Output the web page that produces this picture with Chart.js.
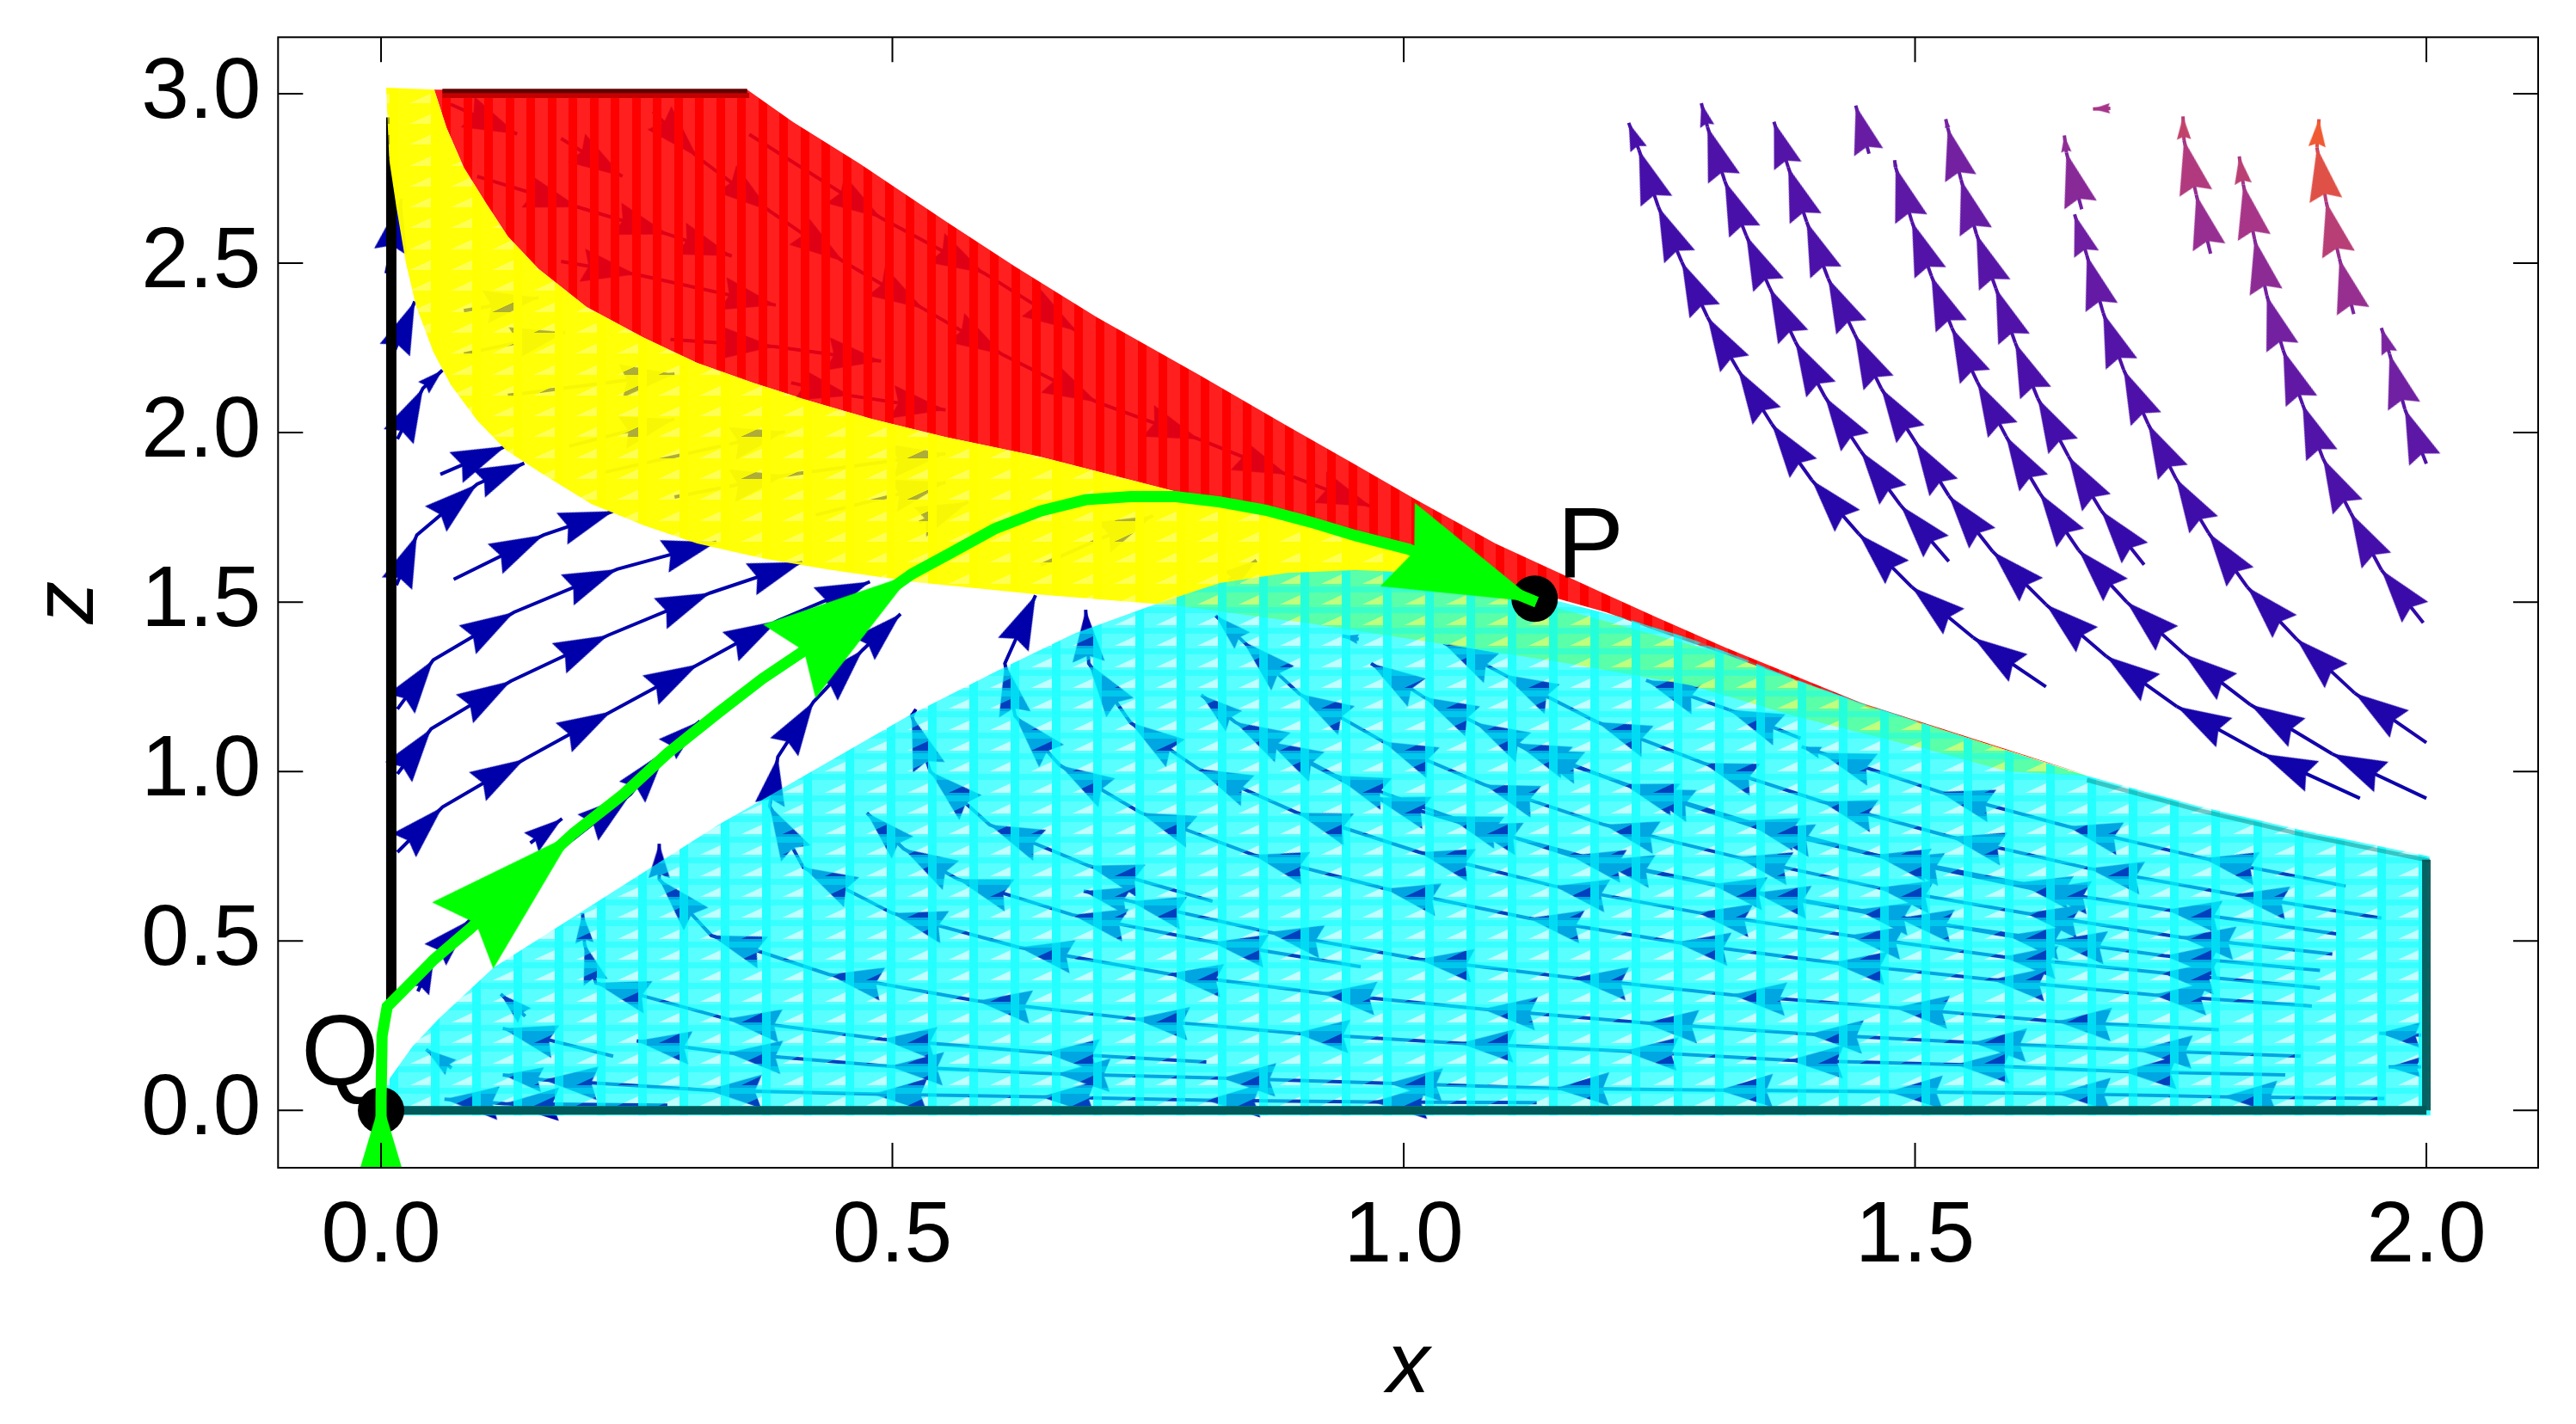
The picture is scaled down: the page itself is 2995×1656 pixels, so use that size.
<!DOCTYPE html>
<html>
<head>
<meta charset="utf-8">
<title>Phase portrait</title>
<script src="https://cdn.jsdelivr.net/npm/chart.js@4/dist/chart.umd.min.js"></script>
<style>
  body { margin: 0; background: #fff; }
  canvas { display: block; }
</style>
</head>
<body>
<canvas id="phaseChart" width="2995" height="1656"></canvas>
<script>
// Axes
const xRange = [-0.1007, 2.1093];
const zRange = [-0.1693, 3.1667];
const xAxisName = "x";
const zAxisName = "z";

// Regions as [x, z]
const redRegion = [
  [0.052, 3.012], [0.358, 3.012], [0.403, 2.916], [0.468, 2.794], [0.553, 2.622], [0.62, 2.49], [0.70, 2.34],
  [0.80, 2.17], [0.886, 2.02], [0.95, 1.91], [1.012, 1.802], [1.09, 1.672], [1.158, 1.578], [1.196, 1.525],
  [1.248, 1.454], [1.315, 1.365], [1.381, 1.284], [1.447, 1.203], [1.668, 0.99], [1.447, 1.195], [1.315, 1.345],
  [1.248, 1.414], [1.198, 1.47], [1.151, 1.51], [0.997, 1.655], [0.908, 1.736], [0.843, 1.774], [0.776, 1.827],
  [0.644, 1.929], [0.552, 1.987], [0.48, 2.04], [0.42, 2.093], [0.364, 2.147], [0.309, 2.206], [0.257, 2.28],
  [0.201, 2.371], [0.154, 2.483], [0.124, 2.579], [0.103, 2.675], [0.081, 2.782], [0.064, 2.9]
];
const yellowRegion = [
  [0.005, 3.018], [0.052, 3.012], [0.064, 2.9], [0.081, 2.782], [0.103, 2.675], [0.124, 2.579], [0.154, 2.483],
  [0.201, 2.371], [0.257, 2.28], [0.309, 2.206], [0.364, 2.147], [0.42, 2.093], [0.48, 2.04], [0.552, 1.987],
  [0.644, 1.929], [0.776, 1.827], [0.843, 1.774], [0.908, 1.736], [0.997, 1.655], [1.13, 1.5], [1.315, 1.345],
  [1.447, 1.2], [1.668, 0.987], [1.591, 1.0], [1.514, 1.063], [1.447, 1.114], [1.381, 1.165], [1.281, 1.254],
  [1.158, 1.32], [0.908, 1.437], [0.776, 1.49], [0.64, 1.523], [0.523, 1.559], [0.437, 1.596], [0.373, 1.629],
  [0.309, 1.673], [0.257, 1.726], [0.206, 1.789], [0.159, 1.876], [0.122, 1.949], [0.094, 2.036], [0.068, 2.142],
  [0.051, 2.239], [0.034, 2.376], [0.024, 2.505], [0.015, 2.665], [0.008, 2.805]
];
const cyanRegion = [
  [0, 0], [0.0076, 0.091], [0.031, 0.19], [0.057, 0.272], [0.11, 0.421], [0.171, 0.538], [0.257, 0.703],
  [0.33, 0.843], [0.38, 0.929], [0.516, 1.165], [0.604, 1.299], [0.677, 1.406], [0.754, 1.49], [0.82, 1.556],
  [0.886, 1.586], [0.952, 1.594], [0.997, 1.589], [1.057, 1.563], [1.108, 1.53], [1.155, 1.5], [1.214, 1.454],
  [1.281, 1.391], [1.331, 1.335], [1.381, 1.274], [1.447, 1.203], [1.531, 1.119], [1.588, 1.063], [1.668, 0.987],
  [1.777, 0.898], [1.877, 0.827], [2.003, 0.749], [2.004, -0.015], [0, -0.015]
];

// Boundaries
const blackEdge = [[0.01, 0.31], [0.01, 2.93]];
const cyanBottomEdge = [[0.02, 0], [2.0, 0]];
const cyanRightEdge = [[2.0, 0], [2.0, 0.74]];
const cyanTopEdge = [[1.668, 0.975], [1.777, 0.886], [1.877, 0.815], [2.003, 0.737]];
const redTopEdge = [[0.06, 3.008], [0.358, 3.008]];
const redTopShade = [[0.06, 2.995], [0.36, 2.995]];

// Streamlines: first point is the tail, the rest are arrow tips
const streamsRight = [
  [[1.628,1.25],[1.557,1.395],[1.497,1.544],[1.445,1.701],[1.399,1.86],[1.36,2.025],[1.327,2.185],[1.297,2.341],[1.272,2.503],[1.249,2.666],[1.23,2.834],[1.22,2.914]],
  [[1.533,1.62],[1.486,1.785],[1.447,1.945],[1.412,2.105],[1.383,2.268],[1.358,2.426],[1.335,2.581],[1.314,2.742],[1.297,2.902],[1.291,2.972]],
  [[1.935,0.921],[1.84,1.052],[1.756,1.192],[1.687,1.34],[1.628,1.493],[1.576,1.649],[1.533,1.814],[1.5,1.974],[1.467,2.13],[1.441,2.29],[1.415,2.455],[1.394,2.622],[1.376,2.783],[1.362,2.917]],
  [[1.724,1.61],[1.682,1.77],[1.65,1.93],[1.62,2.101],[1.598,2.265],[1.579,2.426],[1.56,2.586],[1.545,2.746],[1.532,2.899],[1.53,2.925]],
  [[2.0,0.921],[1.908,1.052],[1.828,1.197],[1.763,1.347],[1.707,1.5],[1.66,1.653],[1.622,1.821],[1.589,1.989],[1.561,2.149],[1.536,2.309],[1.516,2.462],[1.497,2.622],[1.481,2.783],[1.48,2.804]],
  [[2.0,1.085],[1.93,1.231],[1.873,1.391],[1.825,1.544],[1.787,1.704],[1.755,1.865],[1.728,2.025],[1.704,2.185],[1.684,2.353],[1.668,2.523],[1.656,2.644]],
  [[1.997,1.439],[1.956,1.595],[1.926,1.763],[1.899,1.923],[1.879,2.083],[1.86,2.243],[1.844,2.404],[1.832,2.571],[1.821,2.732],[1.817,2.815]],
  [[1.789,2.528],[1.775,2.702],[1.763,2.863],[1.762,2.933]],
  [[1.929,2.35],[1.915,2.513],[1.902,2.681],[1.893,2.841],[1.895,2.925]],
  [[2.0,1.908],[1.979,2.069],[1.964,2.232],[1.956,2.309]],
  [[1.663,2.659],[1.648,2.826],[1.646,2.877]],
  [[1.455,2.823],[1.442,2.965]],
  [[1.691,2.957],[1.674,2.955]]
];
const streamsCyan = [
  [[1.921,0.662],[1.782,0.744],[1.649,0.838],[1.524,0.94],[1.408,1.055],[1.389,1.073]],
  [[1.388,1.098],[1.318,1.182],[1.237,1.269]],
  [[1.956,0.567],[1.812,0.637],[1.67,0.714],[1.535,0.807],[1.409,0.911],[1.293,1.025],[1.189,1.146],[1.098,1.286],[1.039,1.379]],
  [[1.912,0.521],[1.746,0.592],[1.618,0.652],[1.474,0.744],[1.348,0.832],[1.231,0.948],[1.122,1.063],[1.07,1.144],[1.02,1.219],[0.968,1.319]],
  [[1.664,0.636],[1.6,0.672],[1.461,0.754],[1.333,0.855],[1.215,0.963],[1.11,1.083]],
  [[1.908,0.461],[1.76,0.511],[1.608,0.582],[1.464,0.657],[1.326,0.747],[1.196,0.843],[1.079,0.961],[0.98,1.088],[0.898,1.229],[0.843,1.384],[0.816,1.46]],
  [[1.896,0.413],[1.744,0.456],[1.634,0.501],[1.484,0.567],[1.344,0.642],[1.191,0.737],[1.062,0.843],[0.972,0.923],[0.868,1.088]],
  [[1.651,0.489],[1.59,0.516],[1.443,0.592],[1.301,0.667],[1.163,0.752],[1.043,0.868],[0.933,0.988],[0.835,1.146],[0.802,1.226]],
  [[1.896,0.361],[1.741,0.406],[1.586,0.453],[1.435,0.516],[1.287,0.584],[1.147,0.662],[1.015,0.762],[0.896,0.878],[0.799,1.008],[0.733,1.144],[0.692,1.319],[0.689,1.477]],
  [[1.888,0.308],[1.733,0.341],[1.575,0.386],[1.419,0.436],[1.266,0.496],[1.122,0.567],[0.982,0.654],[0.853,0.754],[0.743,0.878],[0.664,1.018],[0.62,1.164],[0.61,1.319],[0.64,1.52]],
  [[1.797,0.238],[1.639,0.262],[1.48,0.303],[1.321,0.341],[1.166,0.391],[1.015,0.446],[0.868,0.526],[0.733,0.617],[0.687,0.647]],
  [[1.877,0.16],[1.718,0.178],[1.556,0.2],[1.396,0.225],[1.235,0.258],[1.077,0.299],[0.92,0.346],[0.77,0.403],[0.624,0.481],[0.5,0.582],[0.413,0.717],[0.38,0.898],[0.388,1.043],[0.423,1.206],[0.471,1.359],[0.508,1.465]],
  [[1.862,0.105],[1.703,0.115],[1.54,0.135],[1.377,0.148],[1.215,0.175],[1.055,0.198],[0.894,0.228],[0.737,0.27],[0.583,0.323],[0.438,0.401],[0.323,0.516],[0.272,0.682],[0.272,0.787]],
  [[1.959,0.035],[1.801,0.04],[1.638,0.05],[1.474,0.055],[1.308,0.06],[1.148,0.065],[0.985,0.08],[0.822,0.095],[0.66,0.108],[0.497,0.13],[0.339,0.17],[0.25,0.205]],
  [[1.13,0.023],[0.97,0.025],[0.807,0.03],[0.645,0.04],[0.481,0.048],[0.319,0.06],[0.159,0.09],[0.119,0.105]],
  [[0.958,0.424],[0.813,0.496],[0.676,0.577],[0.564,0.682],[0.511,0.772],[0.475,0.878]],
  [[0.813,0.617],[0.692,0.722],[0.595,0.843],[0.537,1.0],[0.519,1.164],[0.523,1.184]],
  [[0.807,0.143],[0.649,0.17],[0.49,0.21],[0.338,0.27],[0.21,0.376],[0.199,0.491],[0.197,0.582]],
  [[0.227,0.16],[0.119,0.242]],
  [[0.141,0.278],[0.117,0.343]],
  [[0.069,0.125],[0.044,0.18]],
  [[0.28,0.015],[0.121,0.02],[0.062,0.033]],
  [[1.995,0.222],[1.954,0.228]],
  [[1.995,0.128],[1.963,0.128]],
  [[0.956,1.39],[0.94,1.4]]
];
const streamsLeft = [
  [[0.016,0.762],[0.06,0.895],[0.14,1.036],[0.225,1.177],[0.31,1.316],[0.388,1.445],[0.478,1.56]],
  [[0.016,0.993],[0.049,1.126],[0.127,1.267],[0.222,1.402],[0.322,1.527],[0.412,1.618]],
  [[0.016,1.184],[0.051,1.329],[0.13,1.47],[0.231,1.597],[0.328,1.677]],
  [[0.015,1.55],[0.035,1.698],[0.094,1.848],[0.14,1.91]],
  [[0.071,1.567],[0.159,1.698],[0.227,1.768]],
  [[0.058,1.877],[0.122,1.96]],
  [[0.016,1.981],[0.041,2.131],[0.06,2.184]],
  [[0.013,2.24],[0.033,2.387]],
  [[0.005,2.47],[0.02,2.69]],
  [[0.036,0.351],[0.052,0.456],[0.087,0.562],[0.244,0.933],[0.279,1.063],[0.312,1.149]],
  [[0.146,0.789],[0.177,0.861]]
];
const streamsRed = [
  [[0.068,2.969],[0.133,2.881]],
  [[0.176,2.868],[0.236,2.756]],
  [[0.266,2.948],[0.309,2.814],[0.38,2.654],[0.452,2.505],[0.53,2.366],[0.608,2.23],[0.7,2.09],[0.8,1.98],[0.886,1.876],[0.968,1.782]],
  [[0.094,2.756],[0.193,2.665],[0.281,2.585],[0.343,2.521]],
  [[0.176,2.505],[0.249,2.467],[0.386,2.376]],
  [[0.283,2.275],[0.384,2.254],[0.489,2.211]],
  [[0.401,2.147],[0.459,2.109],[0.552,2.067]],
  [[0.36,2.88],[0.489,2.633],[0.59,2.47],[0.68,2.3]]
];
const streamsYellow = [
  [[0.081,2.36],[0.154,2.398]],
  [[0.081,2.232],[0.18,2.296]],
  [[0.124,2.11],[0.287,2.173]],
  [[0.184,1.96],[0.287,2.04]],
  [[0.214,1.88],[0.395,2.003]],
  [[0.287,1.81],[0.395,1.874],[0.552,1.938]],
  [[0.425,1.757],[0.552,1.853]],
  [[0.645,1.609],[0.755,1.755]],
  [[0.526,1.735],[0.574,1.795]],
  [[0.829,1.563],[0.856,1.623]]
];

// Green trajectory from Q to P, the listed indices carry arrow heads
const greenPath = [
  [0,-0.17],[0,0.035],[0.001,0.22],[0.006,0.306],[0.0225,0.356],[0.052,0.446],[0.087,0.536],[0.188,0.817],
  [0.237,0.933],[0.28,1.053],[0.33,1.174],[0.373,1.274],[0.415,1.359],[0.519,1.583],[0.556,1.643],[0.6,1.716],
  [0.645,1.769],[0.689,1.802],[0.733,1.811],[0.777,1.811],[0.821,1.795],[0.865,1.771],[0.909,1.736],[0.953,1.696],
  [1.005,1.656],[1.13,1.5]
];
const greenTips = [1, 7, 13, 25];

// Fixed points
const fixedPoints = [[0, 0], [1.128, 1.51]];
const pointNames = ["Q", "P"];
const pointNameAt = [[-0.078, 0.074], [1.15, 1.574]];

function toXY(list) {
  return list.map(p => ({ x: p[0], y: p[1] }));
}

// Colour of a streamline goes with x*z, blue at low values and orange at the top right
const speedStops = [
  [1.5, [0, 0, 170]], [3, [55, 10, 170]], [4, [85, 20, 168]], [4.5, [120, 35, 160]], [5, [170, 55, 135]], [5.5, [240, 90, 50]]
];
function streamColor(x, z) {
  const t = x * z;
  if (t <= speedStops[0][0]) return "rgb(0,0,170)";
  for (let i = 1; i < speedStops.length; i++) {
    if (t <= speedStops[i][0]) {
      const a = speedStops[i - 1], b = speedStops[i];
      const f = (t - a[0]) / (b[0] - a[0]);
      const c = a[1].map((v, k) => Math.round(v + (b[1][k] - v) * f));
      return "rgb(" + c.join(",") + ")";
    }
  }
  return "rgb(240,90,50)";
}

// Arrow heads are small canvases with the tip in the middle, chart.js rotates them for us
const dartCache = {};
function dart(color, len, wide) {
  const key = color + "/" + Math.round(len);
  if (dartCache[key]) return dartCache[key];
  const size = 2 * Math.ceil(len) + 8;
  const c = document.createElement("canvas");
  c.width = size;
  c.height = size;
  const g = c.getContext("2d");
  g.translate(size / 2, size / 2);
  g.fillStyle = color;
  g.beginPath();
  g.moveTo(0, 0);
  g.lineTo(-len, -wide / 2);
  g.lineTo(-len * 0.88, 0);
  g.lineTo(-len, wide / 2);
  g.closePath();
  g.fill();
  dartCache[key] = c;
  return c;
}

function pixelGap(ctx) {
  const i = ctx.dataIndex;
  const d = ctx.dataset.data;
  const sx = ctx.chart.scales.x, sz = ctx.chart.scales.y;
  const dx = sx.getPixelForValue(d[i].x) - sx.getPixelForValue(d[i - 1].x);
  const dy = sz.getPixelForValue(d[i].y) - sz.getPixelForValue(d[i - 1].y);
  return { dx, dy, dist: Math.sqrt(dx * dx + dy * dy) };
}

function streamDataset(points) {
  return {
    data: toXY(points),
    showLine: true,
    order: 60,
    clip: 0,
    borderWidth: 4,
    borderColor: "rgb(0,0,170)",
    segment: {
      borderColor: c => streamColor(c.p0.parsed.x, c.p0.parsed.y)
    },
    pointRadius: ctx => (ctx.dataIndex === 0 ? 0 : 3),
    pointBorderWidth: 0,
    pointStyle: ctx => {
      if (ctx.dataIndex === 0) return "circle";
      const p = ctx.dataset.data[ctx.dataIndex];
      const len = Math.max(8, Math.min(63, pixelGap(ctx).dist * 0.97));
      return dart(streamColor(p.x, p.y), len, len * 0.62);
    },
    pointRotation: ctx => {
      if (ctx.dataIndex === 0) return 0;
      const g = pixelGap(ctx);
      return Math.atan2(g.dy, g.dx) * 180 / Math.PI;
    }
  };
}

// Mesh look of the shaded regions: a canvas tile with uneven alpha, so arrows show through
function meshPattern(rgb, a) {
  const stepX = a.stepX, stepY = a.stepY, cols = a.cols, rows = a.rows;
  const c = document.createElement("canvas");
  c.width = Math.round(stepX * cols);
  c.height = Math.round(stepY * rows);
  const g = c.getContext("2d");
  const fill = alpha => "rgba(" + rgb + "," + alpha + ")";
  g.fillStyle = fill(a.base);
  g.fillRect(0, 0, c.width, c.height);
  for (let r = -1; r <= rows; r++) {
    const bottom = Math.round(a.offY + r * stepY);
    if (a.band) {
      g.clearRect(0, bottom + 3, c.width, 7);
      g.fillStyle = fill(a.band);
      g.fillRect(0, bottom + 3, c.width, 7);
    }
    if (!a.tri) continue;
    for (let k = -1; k <= cols; k++) {
      const right = Math.round(a.offX + k * stepX);
      g.beginPath();
      g.moveTo(right - 24, bottom);
      g.lineTo(right, bottom);
      g.lineTo(right, bottom - 11);
      g.closePath();
      g.globalCompositeOperation = "destination-out";
      g.fillStyle = "#000";
      g.fill();
      g.globalCompositeOperation = "source-over";
      g.fillStyle = fill(a.tri);
      g.fill();
    }
  }
  for (let k = -1; k <= cols; k++) {
    const left = Math.round(a.offX + k * stepX);
    g.clearRect(left, 0, a.colW, c.height);
    g.fillStyle = fill(a.col);
    g.fillRect(left, 0, a.colW, c.height);
  }
  return g.createPattern(c, "repeat");
}

const page = document.getElementById("phaseChart").getContext("2d");
const cyanMesh = meshPattern("0,255,255", { stepX: 48.15, stepY: 24.3, cols: 20, rows: 10, offX: 19.5, offY: 22.4, colW: 10, base: 0.65, band: 0.78, tri: 0.25, col: 0.86 });
const yellowMesh = meshPattern("255,255,0", { stepX: 48.15, stepY: 24.3, cols: 20, rows: 10, offX: 19.5, offY: 22.4, colW: 10, base: 0.97, tri: 0.68, col: 1 });
const redMesh = meshPattern("255,0,0", { stepX: 24.5, stepY: 10, cols: 10, rows: 1, offX: 24, offY: 0, colW: 10, base: 0.88, col: 1 });

function region(points, fillStyle, order) {
  return { data: toXY(points), showLine: true, fill: "shape", backgroundColor: fillStyle, borderWidth: 0, pointRadius: 0, order, clip: 0 };
}
function edge(points, color, width, order) {
  return { data: toXY(points), showLine: true, borderColor: color, borderWidth: width, pointRadius: 0, order, clip: 0, borderCapStyle: "butt" };
}

const datasets = [
  ...streamsRight.map(streamDataset),
  ...streamsCyan.map(streamDataset),
  ...streamsLeft.map(streamDataset),
  ...streamsRed.map(streamDataset),
  ...streamsYellow.map(streamDataset),
  edge(blackEdge, "#000", 12, 50),
  region(redRegion, redMesh, 40),
  edge(redTopShade, "rgb(195,0,0)", 6, 39),
  edge(redTopEdge, "rgb(95,0,0)", 5, 38),
  region(yellowRegion, yellowMesh, 30),
  region(cyanRegion, cyanMesh, 20),
  edge(cyanBottomEdge, "rgb(0,90,90)", 10, 15),
  edge(cyanRightEdge, "rgba(0,70,70,0.85)", 10, 15),
  edge(cyanTopEdge, "rgba(0,110,110,0.4)", 5, 15),
  { data: toXY(fixedPoints), showLine: false, pointRadius: 27, pointBackgroundColor: "#000", pointBorderWidth: 0, order: 5, clip: 0 },
  {
    data: toXY(greenPath),
    showLine: true,
    order: 1,
    clip: 0,
    borderColor: "rgb(0,255,0)",
    borderWidth: 13,
    pointRadius: ctx => (greenTips.includes(ctx.dataIndex) ? 3 : 0),
    pointBorderWidth: 0,
    pointStyle: () => dart("rgb(0,255,0)", 175, 105),
    pointRotation: ctx => {
      if (ctx.dataIndex === 0) return 0;
      const g = pixelGap(ctx);
      return Math.atan2(g.dy, g.dx) * 180 / Math.PI;
    }
  }
];

// Mathematica style frame: inward ticks on all four sides
const framePlugin = {
  id: "frame",
  afterDatasetsDraw(chart) {
    const { ctx, chartArea: a, scales } = chart;
    ctx.save();
    ctx.strokeStyle = "#000";
    ctx.lineWidth = 2;
    ctx.strokeRect(a.left, a.top, a.right - a.left, a.bottom - a.top);
    ctx.beginPath();
    scales.x.ticks.forEach(t => {
      const px = scales.x.getPixelForValue(t.value);
      const len = Math.abs(t.value / 0.5 - Math.round(t.value / 0.5)) < 1e-6 ? 29 : 18;
      ctx.moveTo(px, a.bottom);
      ctx.lineTo(px, a.bottom - len);
      ctx.moveTo(px, a.top);
      ctx.lineTo(px, a.top + len);
    });
    scales.y.ticks.forEach(t => {
      const py = scales.y.getPixelForValue(t.value);
      const len = Math.abs(t.value / 0.5 - Math.round(t.value / 0.5)) < 1e-6 ? 29 : 18;
      ctx.moveTo(a.left, py);
      ctx.lineTo(a.left + len, py);
      ctx.moveTo(a.right, py);
      ctx.lineTo(a.right - len, py);
    });
    ctx.stroke();
    // point names
    ctx.fillStyle = "#000";
    ctx.font = '116px "Liberation Sans"';
    ctx.textAlign = "left";
    ctx.textBaseline = "alphabetic";
    pointNames.forEach((name, i) => {
      ctx.fillText(name, scales.x.getPixelForValue(pointNameAt[i][0]), scales.y.getPixelForValue(pointNameAt[i][1]));
    });
    ctx.restore();
  }
};

function axisLabel(value) {
  const m = value / 0.5;
  if (Math.abs(m - Math.round(m)) > 1e-6) return null;
  return value.toFixed(1);
}

// The tick text must not push the frame in, it sits at a fixed place
function noOverhang(s) {
  s.paddingTop = 0;
  s.paddingBottom = 0;
  s.paddingLeft = 0;
  s.paddingRight = 0;
}

new Chart(page, {
  type: "scatter",
  data: { datasets },
  plugins: [framePlugin],
  options: {
    responsive: false,
    animation: false,
    events: [],
    layout: { autoPadding: false, padding: { left: 0, top: 43.3, right: 44, bottom: 0 } },
    plugins: {
      legend: { display: false },
      tooltip: { enabled: false },
      filler: { drawTime: "beforeDatasetDraw" }
    },
    scales: {
      x: {
        type: "linear",
        min: xRange[0],
        max: xRange[1],
        afterFit: s => { s.height = 298; noOverhang(s); },
        grid: { display: false },
        border: { display: false },
        ticks: {
          stepSize: 0.1,
          includeBounds: false,
          autoSkip: false,
          maxRotation: 0,
          padding: 13,
          color: "#000",
          font: { family: "Liberation Sans", size: 100 },
          callback: axisLabel
        },
        title: {
          display: true,
          text: xAxisName,
          color: "#000",
          padding: { top: 0, bottom: 5 },
          font: { family: "Liberation Sans", size: 100, style: "italic" }
        }
      },
      y: {
        type: "linear",
        min: zRange[0],
        max: zRange[1],
        afterFit: s => { s.width = 323.3; noOverhang(s); },
        grid: { display: false },
        border: { display: false },
        ticks: {
          stepSize: 0.1,
          includeBounds: false,
          autoSkip: false,
          padding: 12,
          color: "#000",
          font: { family: "Liberation Sans", size: 100 },
          callback: axisLabel
        },
        title: {
          display: true,
          text: zAxisName,
          color: "#000",
          padding: { top: 20, bottom: 0 },
          font: { family: "Liberation Sans", size: 100, style: "italic" }
        }
      }
    }
  }
});
</script>
</body>
</html>
